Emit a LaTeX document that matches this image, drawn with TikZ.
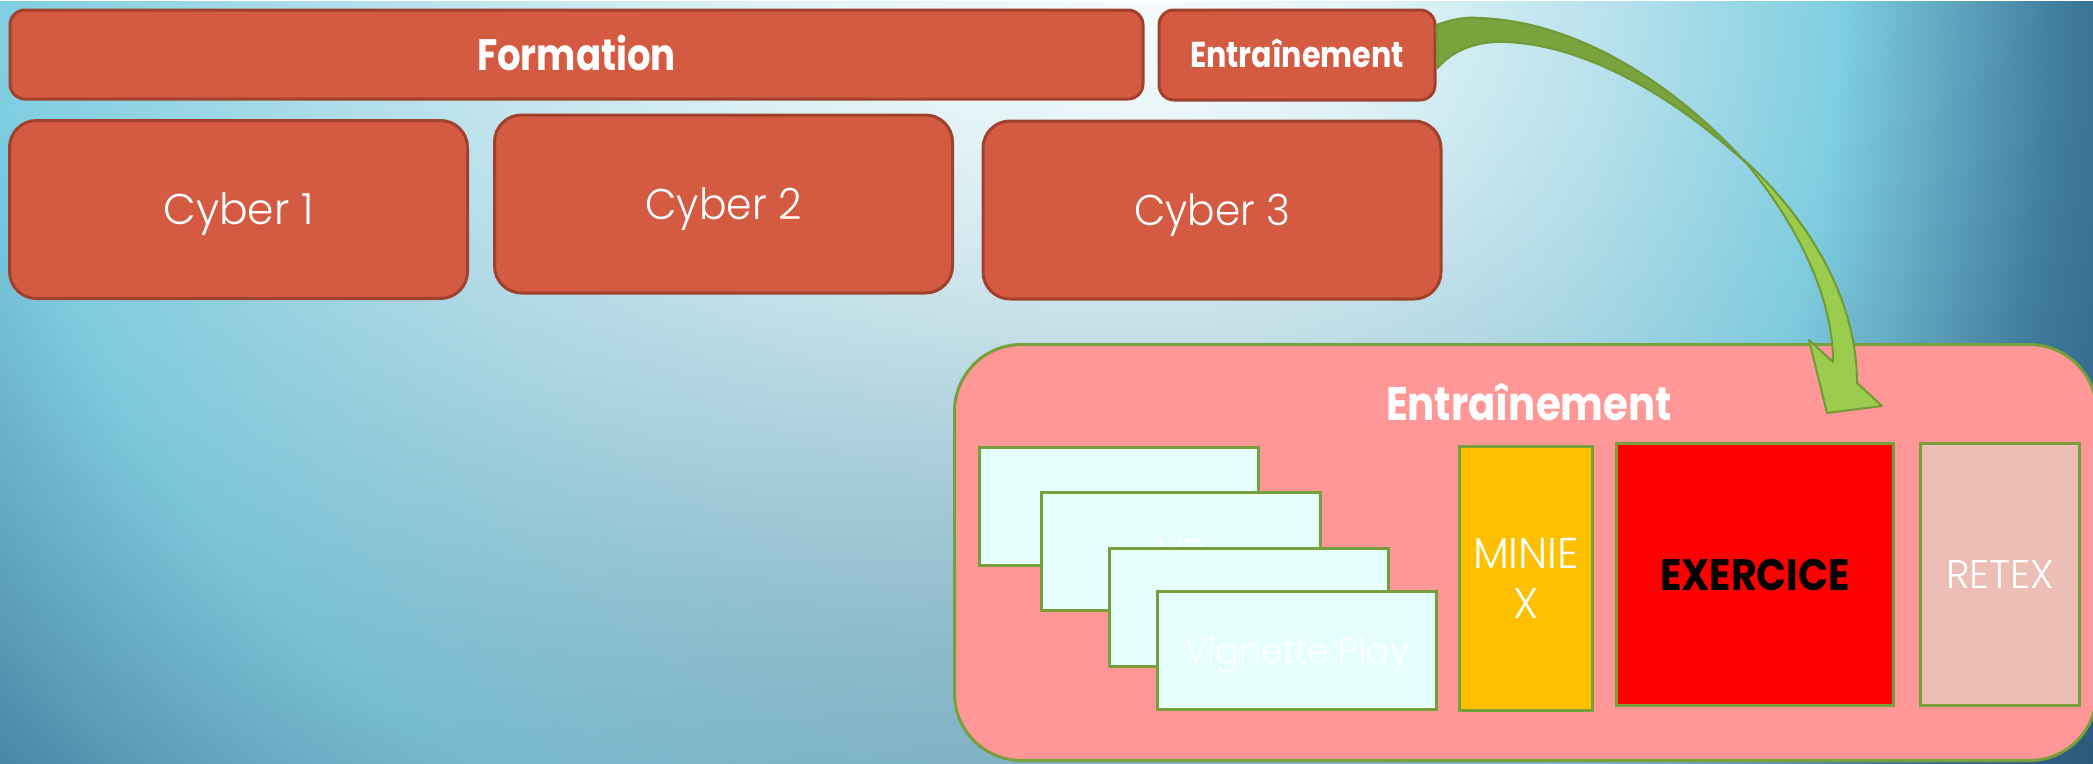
\documentclass[tikz,border=0pt]{standalone}
\usepackage{graphicx}
\usepackage{fontspec}
\setmainfont{Poppins}
\newfontfamily\thinfont{Poppins Light}
\usetikzlibrary{calc}

\definecolor{barfill}{HTML}{D45A41}
\definecolor{barline}{HTML}{A0412D}
\definecolor{leaf}{HTML}{77A03A}
\definecolor{panelfill}{HTML}{FF9797}
\definecolor{cardfill}{HTML}{E4FFFD}
\definecolor{gold}{HTML}{FFC000}
\definecolor{alarm}{HTML}{FF0000}
\definecolor{retexfill}{HTML}{EDBEB5}
\definecolor{arrowdark}{HTML}{79A33C}
\definecolor{arrowlight}{HTML}{9CCC4E}
\definecolor{arrowline}{HTML}{6F9A37}

\newcommand\fsz[1]{\fontsize{#1pt}{#1pt}\selectfont}
\newcommand\fitw[2]{\resizebox{#1}{\height}{#2}}

% sky background: light spot near the top, darker towards the edges,
% greyer towards the bottom
\pgfdeclarefunctionalshading{skybg}{\pgfpoint{0pt}{0pt}}{\pgfpoint{2093pt}{763pt}}{}{%
1.00375 mul 763 exch sub
dup 763 div dup mul 1.4 mul 3 1 roll
30 add 1304 div dup mul
exch 1.00375 mul 1150 sub dup 0 lt {1533 div} {920 div} ifelse
dup mul add sqrt
exch 1 index 1 exch sub dup 0 lt {pop 0} if mul exch
dup 1.35 gt {pop 1.35} if
dup 0.25 lt
{0.25 div dup dup -0.091 mul 0.969 add 3 1 roll -0.035 mul 0.988 add exch -0.023 mul 0.992 add}
{dup 0.5 lt
 {0.25 sub 0.25 div dup dup -0.156 mul 0.878 add 3 1 roll -0.071 mul 0.953 add exch -0.044 mul 0.969 add}
 {dup 0.75 lt
  {0.5 sub 0.25 div dup dup -0.224 mul 0.722 add 3 1 roll -0.074 mul 0.882 add exch -0.043 mul 0.925 add}
  {dup 1.0 lt
   {0.75 sub 0.25 div dup dup -0.255 mul 0.498 add 3 1 roll -0.330 mul 0.808 add exch -0.274 mul 0.882 add}
   {1.0 sub 0.35 div dup dup -0.141 mul 0.243 add 3 1 roll -0.243 mul 0.478 add exch -0.239 mul 0.608 add}
   ifelse}
  ifelse}
 ifelse}
ifelse
dup 0.66 exch sub 4 index mul add 4 1 roll
dup 0.57 exch sub 3 index mul add 3 1 roll
dup 0.40 exch sub 2 index mul add exch pop 3 1 roll exch
}

\begin{document}
\begin{tikzpicture}[x=1pt,y=-1pt,
  topbar/.style={draw=barline, fill=barfill, line width=3pt, rounded corners=15pt,
    inner sep=0pt, text=white, text height=#1, text depth=0pt},
  cyberbox/.style={draw=barline, fill=barfill, line width=3pt, rounded corners=27pt,
    minimum width=458pt, minimum height=178pt, inner sep=0pt, text=white,
    font={\thinfont\fsz{43}}, text height=30pt, text depth=0pt},
  panel/.style={draw=leaf, fill=panelfill, line width=3pt, rounded corners=67pt,
    inner sep=0pt},
  card/.style={draw=leaf, fill=cardfill, line width=3pt, minimum width=279pt,
    minimum height=118pt, inner sep=0pt, text=white, font={\thinfont\fsz{36}},
    text height=25pt, text depth=0pt},
  column/.style={draw=leaf, line width=3pt, inner sep=0pt, minimum height=262pt},
  ribbon/.style={draw=arrowline, line width=2pt, line join=round}]

\useasboundingbox (0,0) rectangle (2093,763);
\node[inner sep=0pt, outer sep=0pt, anchor=south west] (sky) at (0,763) {\pgfuseshading{skybg}};

% top row
\node[topbar=31pt, minimum width=1133pt, minimum height=89pt, font={\fsz{44}\bfseries}]
  (form) at (576.5,54.5) {\fitw{199pt}{Formation}};
\node[topbar=25pt, minimum width=276pt, minimum height=90pt, font={\fsz{36}\bfseries}]
  (entS) at (1297,55) {\fitw{214pt}{Entraînement}};

% the three courses
\node[cyberbox] (cy1) at (238.5,209.5) {\fitw{150pt}{Cyber 1}};
\node[cyberbox] (cy2) at (723.5,204) {\fitw{156pt}{Cyber 2}};
\node[cyberbox] (cy3) at (1212,210) {\fitw{156pt}{Cyber 3}};

% training panel
\node[panel, minimum width=1142pt, minimum height=416pt] (panel) at (1525.5,552.5) {};
\node[anchor=base, inner sep=0pt, text=white, font={\fsz{47}\bfseries}]
  (paneltitle) at (1529,420) {\fitw{286pt}{Entraînement}};

% stacked cards
\node[card] (card1) at (1119,506.5) {};
\node[card] (card2) at (1181,551.5) {\fitw{48pt}{VP}};
\node[card] (card3) at (1249,607.5) {};
\node[card] (card4) at (1297,650.5) {\fitw{224pt}{Vignette Play}};

% columns
\node[column, fill=gold, minimum width=133pt, minimum height=264pt, text=white,
  align=center, font={\thinfont\fontsize{43pt}{50pt}\selectfont}]
  (minix) at (1526,578.5) {\fitw{106pt}{MINIE}\\X};
\node[column, fill=alarm, minimum width=277pt, text=black,
  font={\fsz{44}\bfseries}, text height=31pt, text depth=0pt]
  (exer) at (1755,574.5) {\fitw{190pt}{EXERCICE}};
\node[column, fill=retexfill, minimum width=159pt, text=white,
  font={\thinfont\fsz{40}}, text height=28pt, text depth=0pt]
  (retex) at (2000,574.5) {\fitw{108pt}{RETEX}};

% curved arrow from the small training box down into the panel
\coordinate (aTop) at ($(entS.east)+(0,-30)$);
\coordinate (aBot) at ($(entS.east)+(1,13)$);
\coordinate (aTwist) at (1746,163);
\coordinate (aNotch) at (1833,362);
\coordinate (aBarbL) at (1809,340);
\coordinate (aTip) at (1827,413);
\coordinate (aBarbR) at (1882,406);
\coordinate (aShaft) at (1857,383);

\path[ribbon, fill=arrowdark] (aTop) .. controls (1455,18) and (1468,17) .. (1480,18)
  .. controls (1590,22) and (1690,100) .. (aTwist)
  .. controls (1680,102) and (1590,45) .. (1505,42)
  .. controls (1480,41) and (1455,48) .. (aBot) -- cycle;
\path[ribbon, fill=arrowlight] ($(aTwist)+(-3,-4)$) .. controls (1790,215) and (1833,290) .. (aNotch)
  -- (aBarbL) -- (aTip) -- (aBarbR) -- (aShaft)
  .. controls (1857,300) and (1810,220) .. ($(aTwist)+(-3,-4)$) -- cycle;
\end{tikzpicture}
\end{document}
